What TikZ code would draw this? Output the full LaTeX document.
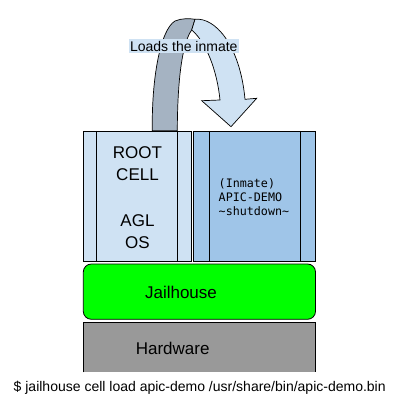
\documentclass[tikz,border=0pt]{standalone}
\usepackage{fontspec}
\setmainfont{Liberation Sans}
\newfontfamily\monofont{DejaVu Sans Mono}

\begin{document}
\begin{tikzpicture}[x=1pt,y=-1pt,line width=0.8pt]
   \definecolor{rootblue}{HTML}{CFE2F3}
   \definecolor{inmateblue}{HTML}{9FC5E8}
   \definecolor{arrowdark}{HTML}{A5B3C2}
   \definecolor{hwgray}{HTML}{999999}
   \definecolor{jhgreen}{HTML}{00FF00}
   \tikzset{big/.style={font=\fontsize{17}{22}\selectfont, align=center}}
   \useasboundingbox (0,0) rectangle (405,406);
   % root cell
   \draw[fill=rootblue] (83,131) rectangle (191.7,261);
   \draw (96,131) -- (96,261);
   \draw (177.7,131) -- (177.7,261);
   \node[big] (rootcell) at (137.5,164) {ROOT\\CELL};
   \node[big] (aglos) at (137.5,232) {AGL\\OS};
   % inmate cell
   \draw[fill=inmateblue] (193.3,131) rectangle (315.5,261);
   \draw (209.3,131) -- (209.3,261);
   \draw (300.7,131) -- (300.7,261);
   \node[font=\monofont\fontsize{11.7}{14}\selectfont, align=left, anchor=west] (inmate) at (215,197)
      {(Inmate)\\APIC-DEMO\\\textasciitilde shutdown\textasciitilde};
   % jailhouse and hardware
   \draw[fill=jhgreen, rounded corners=8pt] (83.3,264) rectangle (315.5,319.3);
   \node[big] (jailhouse) at (181,292) {Jailhouse};
   \fill[hwgray] (83.3,322) rectangle (315.5,372.3);
   \draw (83.3,372.3) -- (83.3,322) -- (315.5,322) -- (315.5,372.3);
   \node[big] (hardware) at (172.7,348) {Hardware};
   \node[font=\fontsize{14}{16}\selectfont] (cmd) at (199.7,388)
      {\$ jailhouse cell load apic-demo /usr/share/bin/apic-demo.bin};
   % curved arrow
   \draw[fill=arrowdark, line width=0.7pt] (152.3,130.7) .. controls (151.5,80) and (160,30) .. (175,21)
      .. controls (182,18) and (190,18.5) .. (195,19.3) -- (191.7,30)
      .. controls (183,42) and (177.5,75) .. (177.3,130.7) -- cycle;
   \draw[fill=rootblue, line width=0.7pt] (195,19.3) .. controls (215,17) and (240,45) .. (245,99.3)
      -- (256.7,98.3) -- (231,126.7) -- (201.7,100.7) -- (220,100)
      .. controls (217,70) and (206,42) .. (191.7,30) -- cycle;
   \node[fill=rootblue, font=\fontsize{14}{16}\selectfont, inner sep=1.5pt] (loads) at (183.8,46) {Loads the inmate};
\end{tikzpicture}
\end{document}
